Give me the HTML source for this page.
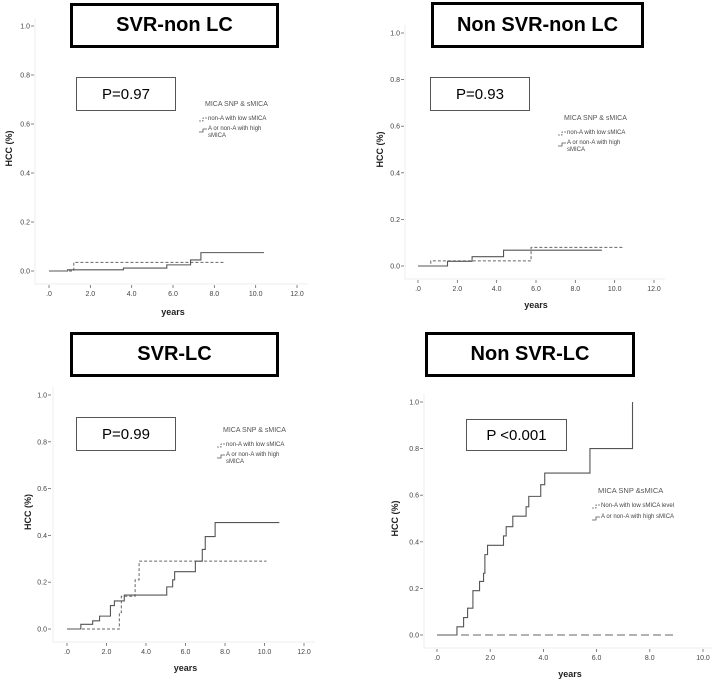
<!DOCTYPE html>
<html><head><meta charset="utf-8">
<style>
html,body{margin:0;padding:0;background:#fff;}
body{width:719px;height:681px;position:relative;overflow:hidden;font-family:"Liberation Sans",sans-serif;}
.title{position:absolute;border:3px solid #000;box-sizing:border-box;display:flex;align-items:center;justify-content:center;font-weight:bold;font-size:20px;background:#fff;}
.pbox{position:absolute;border:1px solid #555;box-sizing:border-box;display:flex;align-items:center;justify-content:center;font-size:15px;background:#fff;}
svg{position:absolute;left:0;top:0;}
</style></head>
<body>
<svg id="chart" width="719" height="681"></svg>
<div class="title" style="left:70px;top:3px;width:209px;height:45px;">SVR-non LC</div>
<div class="pbox" style="left:76px;top:77px;width:100px;height:34px;">P=0.97</div>
<div class="title" style="left:431px;top:2px;width:213px;height:46px;">Non SVR-non LC</div>
<div class="pbox" style="left:430px;top:77px;width:100px;height:34px;">P=0.93</div>
<div class="title" style="left:70px;top:332px;width:209px;height:45px;">SVR-LC</div>
<div class="pbox" style="left:76px;top:417px;width:100px;height:34px;">P=0.99</div>
<div class="title" style="left:425px;top:332px;width:210px;height:45px;">Non SVR-LC</div>
<div class="pbox" style="left:466px;top:419px;width:101px;height:32px;">P &lt;0.001</div>
<script>
// Panel 1: SVR-non LC
const p1DashX=[0,1.2,8.5];
const p1DashY=[0,0.035,0.035];
const p1SolidX=[0,0.9,3.6,5.7,6.85,7.35,10.4];
const p1SolidY=[0,0.005,0.012,0.025,0.045,0.075,0.075];
// Panel 2: Non SVR-non LC
const p2DashX=[0,0.65,5.75,10.4];
const p2DashY=[0,0.022,0.08,0.08];
const p2SolidX=[0,1.5,2.75,4.35,9.35];
const p2SolidY=[0,0.02,0.04,0.068,0.068];
// Panel 3: SVR-LC
const p3DashX=[0,2.65,2.75,3.45,3.65,10.1];
const p3DashY=[0,0.07,0.14,0.21,0.29,0.29];
const p3SolidX=[0,0.7,1.3,1.65,2.2,2.4,2.9,5.05,5.35,5.45,6.5,6.85,7.0,7.5,10.75];
const p3SolidY=[0,0.02,0.035,0.055,0.10,0.12,0.145,0.18,0.21,0.245,0.29,0.34,0.395,0.455,0.455];
// Panel 4: Non SVR-LC
const p4DashX=[0,8.9];
const p4DashY=[0,0];
const p4SolidX=[0,0.75,1.0,1.15,1.35,1.6,1.75,1.8,1.9,2.5,2.6,2.85,3.35,3.45,3.9,4.05,5.75,7.35];
const p4SolidY=[0,0.035,0.075,0.115,0.19,0.23,0.265,0.345,0.385,0.425,0.465,0.51,0.55,0.595,0.645,0.695,0.8,1.0];
const yTicks=[0,0.2,0.4,0.6,0.8,1.0];
const yTickLabels=["0.0","0.2","0.4","0.6","0.8","1.0"];
const xTicks12=[0,2,4,6,8,10,12];
const xTickLabels12=[".0","2.0","4.0","6.0","8.0","10.0","12.0"];
const xTicks10=[0,2,4,6,8,10];
const xTickLabels10=[".0","2.0","4.0","6.0","8.0","10.0"];

const svg=document.getElementById('chart');
const NS='http://www.w3.org/2000/svg';
function mk(tag,attrs,parent){const e=document.createElementNS(NS,tag);for(const k in attrs)e.setAttribute(k,attrs[k]);(parent||svg).appendChild(e);return e;}

const panels=[
 {id:'svr-non-lc',x0:49,x1:297,xmax:12,y0:271,y1:26,tickX:33,frameL:35,frameR:308,frameB:284,xt:xTicks12,xl:xTickLabels12,dx:p1DashX,dy:p1DashY,sx:p1SolidX,sy:p1SolidY,dash:'3,2',yearsY:315,hccX:9,legX:205,legY:106,legLines:['non-A with low sMICA','A or non-A with high','sMICA']},
 {id:'non-svr-non-lc',x0:418,x1:654,xmax:12,y0:266,y1:33,tickX:403,frameL:405,frameR:665,frameB:279,xt:xTicks12,xl:xTickLabels12,dx:p2DashX,dy:p2DashY,sx:p2SolidX,sy:p2SolidY,dash:'3,2',yearsY:308,hccX:380,legX:564,legY:120,legLines:['non-A with low sMICA','A or non-A with high','sMICA']},
 {id:'svr-lc',x0:67,x1:304,xmax:12,y0:629,y1:395,tickX:50,frameL:53,frameR:315,frameB:642,xt:xTicks12,xl:xTickLabels12,dx:p3DashX,dy:p3DashY,sx:p3SolidX,sy:p3SolidY,dash:'3,2',yearsY:671,hccX:28,legX:223,legY:432,legLines:['non-A with low sMICA','A or non-A with high','sMICA']},
 {id:'non-svr-lc',x0:437,x1:703,xmax:10,y0:635,y1:402,tickX:422,frameL:424,frameR:712,frameB:648,xt:xTicks10,xl:xTickLabels10,dx:p4DashX,dy:p4DashY,sx:p4SolidX,sy:p4SolidY,dash:'8,4',yearsY:677,hccX:395,legX:598,legY:493,legLines:['Non-A  with low sMICA level','A or non-A with high sMICA']}
];

panels.forEach((p,pi)=>{
 const g=mk('g',{});
 
 
 const X=v=>p.x0+(p.x1-p.x0)*v/p.xmax;
 const Y=v=>p.y0+(p.y1-p.y0)*v;
 const fr=mk('path',{d:`M${p.frameL},${p.y1-8}V${p.frameB}H${p.frameR}`,fill:'none',stroke:'#eee','stroke-width':1},g);
 
 
 yTicks.forEach((t,i)=>{
  const l=mk('line',{x1:p.tickX-2,x2:p.tickX+1,y1:Y(t),y2:Y(t),stroke:'#666','stroke-width':0.8},g);
  
  
  const tx=mk('text',{x:p.tickX-3,y:Y(t)+2.5,'text-anchor':'end','font-size':7,fill:'#444'},g);
  tx.textContent=yTickLabels[i];
  
  
 });
 p.xt.forEach((t,i)=>{
  const l=mk('line',{x1:X(t),x2:X(t),y1:p.frameB+1,y2:p.frameB+4,stroke:'#666','stroke-width':0.8},g);
  
  
  const tx=mk('text',{x:X(t),y:p.frameB+12,'text-anchor':'middle','font-size':7,fill:'#444'},g);
  tx.textContent=p.xl[i];
  
  
 });
 const yt=mk('text',{x:(p.x0+p.x1)/2,y:p.yearsY,'text-anchor':'middle','font-size':9,'font-weight':'bold',fill:'#222'},g);
 yt.textContent='years';
 
 
 const cy=(p.y0+p.y1)/2;
 const ht=mk('text',{x:p.hccX,y:cy,'text-anchor':'middle','font-size':9,'font-weight':'bold',fill:'#222',transform:`rotate(-90 ${p.hccX} ${cy})`,dy:3},g);
 ht.textContent='HCC (%)';
 
 
 function step(xs,ys){let d=`M${X(xs[0])},${Y(ys[0])}`;for(let i=1;i<xs.length;i++){d+=`H${X(xs[i])}V${Y(ys[i])}`;}return d;}
 const dl=mk('path',{d:step(p.dx,p.dy),fill:'none',stroke:'#666','stroke-width':1,'stroke-dasharray':p.dash},g);
 
 
 const sl=mk('path',{d:step(p.sx,p.sy),fill:'none',stroke:'#555','stroke-width':1.1},g);
 
 
 // legend
 const lt=mk('text',{x:p.legX,y:p.legY,'font-size':pi==3?7.5:7,fill:'#555'},g);
 lt.textContent=pi==3?'MICA SNP &sMICA':'MICA SNP & sMICA';
 
 
 const lx=p.legX-6, e1=p.legY+15, e2=p.legY+(pi==3?27:26);
 const ls1=mk('path',{d:`M${lx},${e1}h4v-3h4`,fill:'none',stroke:'#666','stroke-width':0.8,'stroke-dasharray':'2,1'},g);
 
 
 const ls2=mk('path',{d:`M${lx},${e2}h4v-3h4`,fill:'none',stroke:'#555','stroke-width':0.8},g);
 
 
 const t1=mk('text',{x:lx+9,y:e1-1,'font-size':6,fill:'#444'},g);
 t1.textContent=p.legLines[0];
 
 
 const t2=mk('text',{x:lx+9,y:e2-2,'font-size':6,fill:'#444'},g);
 t2.textContent=p.legLines[1];
 
 
 if(p.legLines[2]){
  const t3=mk('text',{x:lx+9,y:e2+5,'font-size':6,fill:'#444'},g);
  t3.textContent=p.legLines[2];
  
  
 }
});
</script>
</body></html>
